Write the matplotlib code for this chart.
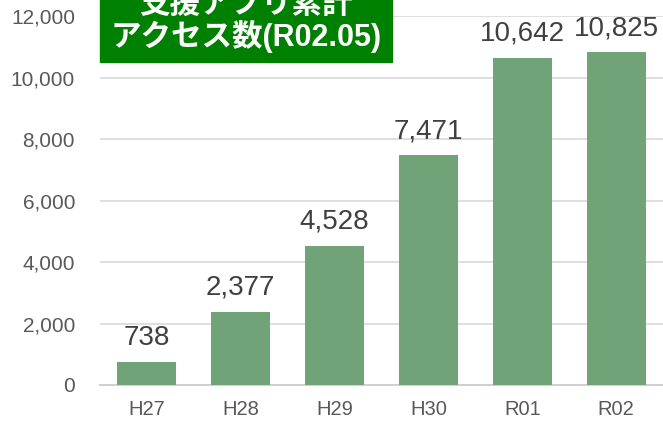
import matplotlib
matplotlib.use("Agg")
import matplotlib.pyplot as plt
from matplotlib.patches import Rectangle

plt.rcParams['font.family'] = ['Liberation Sans', 'Noto Sans CJK JP', 'DejaVu Sans']

years = ['H27', 'H28', 'H29', 'H30', 'R01', 'R02']
access = [738, 2377, 4528, 7471, 10642, 10825]
title_lines = ['支援アプリ累計', 'アクセス数(R02.05)']

W, H = 663, 424
fig = plt.figure(figsize=(W / 100, H / 100), dpi=100)
ax = fig.add_axes([100 / W, (H - 385) / H, 563 / W, (385 - 16) / H])

bars = ax.bar(range(len(years)), access, width=0.63, color='#70a377', zorder=3)
ax.bar_label(bars, labels=[f'{v:,}' for v in access], padding=8,
             fontsize=20, color='#404040')

ax.set_xlim(-0.5, len(years) - 0.5)
ax.set_ylim(0, 12000)
ax.set_yticks(range(0, 12001, 2000))
ax.set_yticklabels([f'{v:,}' for v in range(0, 12001, 2000)])
ax.set_xticks(range(len(years)))
ax.set_xticklabels(years)
ax.tick_params(axis='y', length=0, pad=18, labelsize=15, labelcolor='#595959')
ax.tick_params(axis='x', length=0, pad=11, labelsize=14.5, labelcolor='#595959')
ax.grid(axis='y', color='#d9d9d9', linewidth=1.2, zorder=0)
for s in ['top', 'left', 'right']:
    ax.spines[s].set_visible(False)
ax.spines['bottom'].set_color('#d0d0d0')
ax.spines['bottom'].set_linewidth(1.4)

# title box, partly cut off at the top (as in the original)
fig.patches.append(Rectangle((100 / W, (H - 62) / H), 292 / W, 62 / H + 0.1,
                             transform=fig.transFigure, color='#008000',
                             zorder=5))
fig.text(246 / W, (H - 5) / H, title_lines[0], ha='center', va='center',
         fontsize=22, fontweight='bold', color='white', zorder=6)
fig.text(246 / W, (H - 36) / H, title_lines[1], ha='center', va='center',
         fontsize=22, fontweight='bold', color='white', zorder=6)

fig.savefig('out.png', dpi=100)
